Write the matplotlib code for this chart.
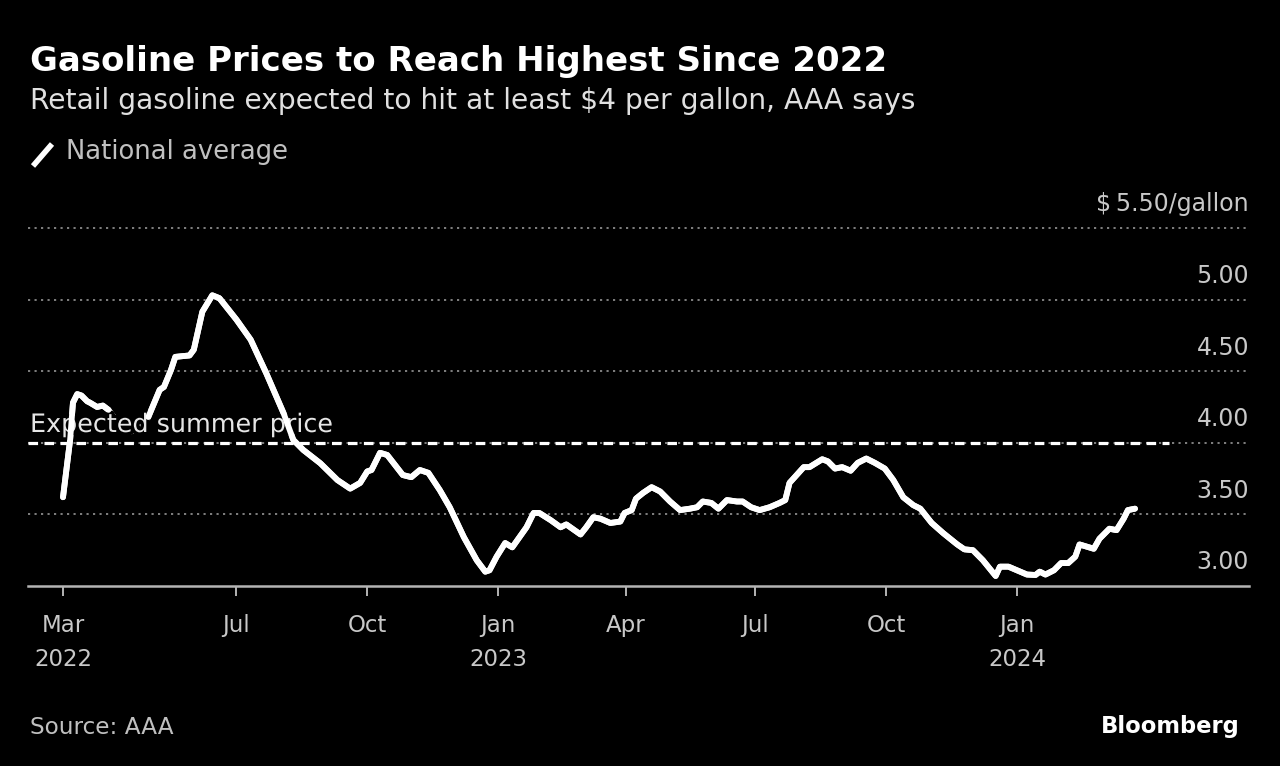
import matplotlib
matplotlib.use("Agg")
import matplotlib.pyplot as plt
import matplotlib.dates as mdates
import matplotlib.patheffects as pe
from matplotlib.lines import Line2D
import numpy as np

# ---------------- data ----------------
dates = [
    "2022-03-01", "2022-03-06", "2022-03-08", "2022-03-11", "2022-03-14", "2022-03-18",
    "2022-03-20", "2022-03-25", "2022-03-29", "2022-04-02", "2022-04-10", "2022-04-18",
    "2022-04-24", "2022-04-30", "2022-05-08", "2022-05-11", "2022-05-16", "2022-05-19",
    "2022-05-29", "2022-06-01", "2022-06-07", "2022-06-14", "2022-06-19", "2022-07-01",
    "2022-07-11", "2022-07-22", "2022-08-03", "2022-08-10", "2022-08-17", "2022-08-29",
    "2022-09-10", "2022-09-19", "2022-09-26", "2022-10-01", "2022-10-04", "2022-10-10",
    "2022-10-15", "2022-10-17", "2022-10-26", "2022-11-01", "2022-11-07", "2022-11-13",
    "2022-11-21", "2022-11-28", "2022-12-08", "2022-12-17", "2022-12-23", "2022-12-26",
    "2022-12-31", "2023-01-06", "2023-01-11", "2023-01-16", "2023-01-21", "2023-01-26",
    "2023-01-30", "2023-02-07", "2023-02-14", "2023-02-18", "2023-02-28", "2023-03-04",
    "2023-03-09", "2023-03-14", "2023-03-21", "2023-03-28", "2023-03-31", "2023-04-05",
    "2023-04-08", "2023-04-13", "2023-04-19", "2023-04-25", "2023-05-02", "2023-05-09",
    "2023-05-16", "2023-05-21", "2023-05-25", "2023-05-31", "2023-06-05", "2023-06-11",
    "2023-06-18", "2023-06-22", "2023-06-28", "2023-07-04", "2023-07-11", "2023-07-18",
    "2023-07-22", "2023-07-25", "2023-07-30", "2023-08-04", "2023-08-08", "2023-08-17",
    "2023-08-21", "2023-08-26", "2023-08-31", "2023-09-06", "2023-09-11", "2023-09-17",
    "2023-09-23", "2023-09-30", "2023-10-06", "2023-10-13", "2023-10-20", "2023-10-25",
    "2023-11-02", "2023-11-10", "2023-11-20", "2023-11-25", "2023-12-01", "2023-12-08",
    "2023-12-17", "2023-12-20", "2023-12-26", "2024-01-01", "2024-01-08", "2024-01-14",
    "2024-01-17", "2024-01-21", "2024-01-27", "2024-02-01", "2024-02-06", "2024-02-11",
    "2024-02-14", "2024-02-24", "2024-02-28", "2024-03-06", "2024-03-11", "2024-03-16",
    "2024-03-19", "2024-03-24",
]
prices = [
    3.62, 4.02, 4.28, 4.34, 4.33, 4.29,
    4.28, 4.25, 4.26, 4.23, 4.12, 4.08,
    4.10, 4.18, 4.37, 4.39, 4.51, 4.60,
    4.61, 4.65, 4.915, 5.03, 5.01, 4.86,
    4.72, 4.485, 4.21, 4.02, 3.95, 3.857,
    3.74, 3.68, 3.72, 3.80, 3.81, 3.93,
    3.915, 3.89, 3.775, 3.76, 3.81, 3.79,
    3.67, 3.55, 3.34, 3.18, 3.10, 3.11,
    3.205, 3.30, 3.27, 3.34, 3.41, 3.51,
    3.51, 3.46, 3.41, 3.43, 3.36, 3.41,
    3.48, 3.47, 3.44, 3.45, 3.51, 3.53,
    3.61, 3.65, 3.69, 3.66, 3.59, 3.53,
    3.54, 3.55, 3.59, 3.58, 3.54, 3.60,
    3.59, 3.59, 3.55, 3.53, 3.55, 3.58,
    3.60, 3.72, 3.775, 3.83, 3.83, 3.885,
    3.87, 3.82, 3.83, 3.805, 3.86, 3.89,
    3.86, 3.82, 3.74, 3.62, 3.565, 3.54,
    3.44, 3.37, 3.29, 3.256, 3.25, 3.18,
    3.07, 3.135, 3.135, 3.11, 3.08, 3.077,
    3.10, 3.08, 3.11, 3.16, 3.16, 3.205,
    3.29, 3.26, 3.33, 3.40, 3.39, 3.47,
    3.53, 3.54,
]
expected_price = 4.00
expected_end = "2024-04-17"
# stretch of the line that sits behind the label
label_hidden_from, label_hidden_to = "2022-04-03", "2022-04-29"

xtick_dates = ["2022-03-01", "2022-07-01", "2022-10-01", "2023-01-01",
               "2023-04-01", "2023-07-01", "2023-10-01", "2024-01-01"]
xtick_labels = ["Mar\n2022", "Jul", "Oct", "Jan\n2023", "Apr", "Jul", "Oct", "Jan\n2024"]
ytick_values = [3.00, 3.50, 4.00, 4.50, 5.00, 5.50]
ytick_labels = ["3.00", "3.50", "4.00", "4.50", "5.00", "$\u20095.50/gallon"]

title = "Gasoline Prices to Reach Highest Since 2022"
subtitle = "Retail gasoline expected to hit at least $4 per gallon, AAA says"
legend_label = "National average"
annot_label = "Expected summer price"
source = "Source: AAA"
brand = "Bloomberg"

# ---------------- layout ----------------
W, H = 1280, 766
plt.rcParams['font.family'] = ['DejaVu Sans']
fig = plt.figure(figsize=(W / 100, H / 100), dpi=100, facecolor='black')

ax_left, ax_right, ax_bottom_px, ax_top_px = 28, 1249, 586, 213
ax = fig.add_axes([ax_left / W, 1 - ax_bottom_px / H,
                   (ax_right - ax_left) / W, (ax_bottom_px - ax_top_px) / H])
ax.set_facecolor('black')

x = mdates.datestr2num(dates)
y = np.array(prices, dtype=float)
base = mdates.datestr2num("2022-03-01")
px_per_day = 954 / 671.0
ax.set_xlim(base - (63 - ax_left) / px_per_day, base + (ax_right - 63) / px_per_day)
px_per_dollar = 143.2
ax.set_ylim(3.0, 3.0 + (ax_bottom_px - ax_top_px) / px_per_dollar)

for s in ['top', 'left', 'right']:
    ax.spines[s].set_visible(False)
ax.spines['bottom'].set_color('#b4b4b4')
ax.spines['bottom'].set_linewidth(1.8)

# gridlines
for v in ytick_values[1:]:
    ax.axhline(v, color='#8a8a8a', lw=1.3, ls=(0, (1.2, 2.4)), zorder=1)

# y labels (above gridlines, right aligned)
for v, lab in zip(ytick_values, ytick_labels):
    ax.annotate(lab, xy=(1, v), xycoords=('axes fraction', 'data'),
                xytext=(0, 12), textcoords='offset points',
                ha='right', va='baseline', color='#c8c8c8', fontsize=17)
ax.set_yticks([])

# x ticks
ax.set_xticks(mdates.datestr2num(xtick_dates))
ax.set_xticklabels(xtick_labels, linespacing=1.6)
ax.tick_params(axis='x', direction='out', length=7.5, width=1.4, color='#b4b4b4',
               labelcolor='#c8c8c8', labelsize=16.5, pad=13)

# expected summer price dashed line
ax.plot([ax.get_xlim()[0], mdates.datestr2num(expected_end)],
        [expected_price, expected_price], color='white', lw=2.3,
        ls=(0, (3.0, 2.0)), zorder=2)

# main line (under the label)
line_kw = dict(color='white', lw=4.2, solid_joinstyle='round', solid_capstyle='round')
ax.plot(x, y, zorder=3, **line_kw)

renderer = fig.canvas.get_renderer()


def fit_text(xp, yp, s, target_w, ha='left', **kw):
    t = fig.text(xp / W, 1 - yp / H, s, ha=ha, va='baseline', fontsize=20, **kw)
    w = t.get_window_extent(renderer).width
    t.set_fontsize(20 * target_w / w)
    return t


# annotation label with black halo, in the axes layer
tmp = fit_text(30, 432, annot_label, 303)
fs = tmp.get_fontsize()
tmp.remove()
ann = ax.text(30 / W, 1 - 432 / H, annot_label, transform=fig.transFigure,
              color='#e6e6e6', fontsize=fs, ha='left', va='baseline', zorder=4,
              path_effects=[pe.withStroke(linewidth=5, foreground='black')])
ann.set_clip_on(False)

# line drawn above the label except the stretch hidden behind it
hidden = (x > mdates.datestr2num(label_hidden_from)) & (x < mdates.datestr2num(label_hidden_to))
y_top = np.where(hidden, np.nan, y)
ax.plot(x, y_top, zorder=5, **line_kw)

# titles
fit_text(30, 71, title, 855, color='white', fontweight='bold')
fit_text(30, 109, subtitle, 886, color='#e0e0e0')

# legend
fig.add_artist(Line2D([33 / W, 52 / W], [1 - 166 / H, 1 - 144 / H], color='white',
                      lw=4.0, solid_capstyle='butt', transform=fig.transFigure))
fit_text(66, 159, legend_label, 222, color='#c0c0c0')

# footer
fit_text(30, 734, source, 143, color='#c0c0c0')
fit_text(1240, 733, brand, 139, ha='right', color='white', fontweight='bold')

fig.savefig("out.png", dpi=100, facecolor='black')
